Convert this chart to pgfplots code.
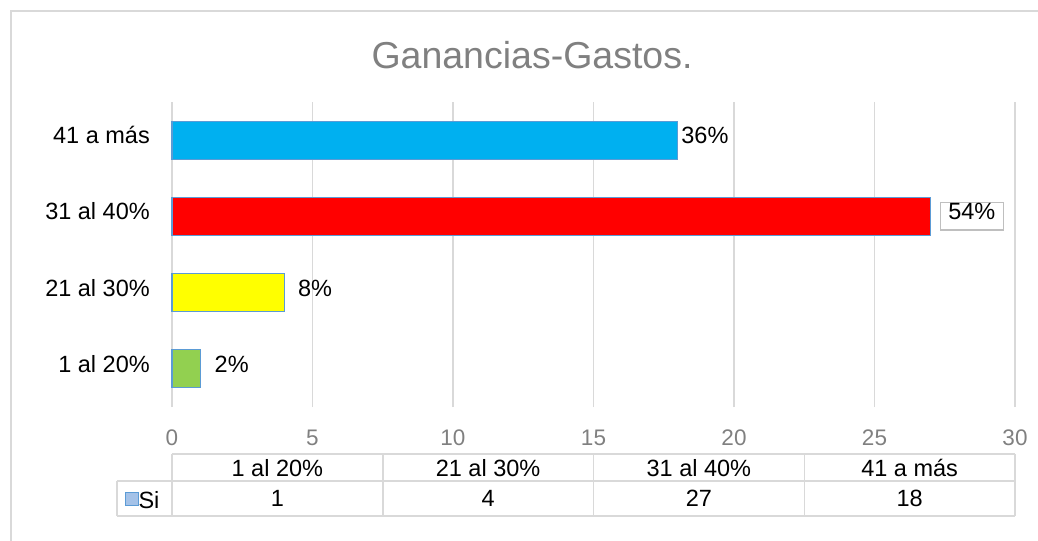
\documentclass[border=0pt]{standalone}
\usepackage{fontspec}
\setmainfont{Liberation Sans}
\usepackage{pgfplots}
\pgfplotsset{compat=1.18}
\definecolor{gridgray}{HTML}{D9D9D9}
\definecolor{framegray}{HTML}{D9D9D9}
\definecolor{tickgray}{HTML}{808080}
\definecolor{titlegray}{HTML}{808080}
\definecolor{boxgray}{HTML}{BFBFBF}
\definecolor{barborder}{HTML}{5B9BD5}
\definecolor{cblue}{HTML}{00B0F0}
\definecolor{cred}{HTML}{FF0000}
\definecolor{cyellow}{HTML}{FFFF00}
\definecolor{cgreen}{HTML}{92D050}
\definecolor{legfill}{HTML}{A4C2E8}
\newcommand\labfont{\fontsize{23.5bp}{28bp}\selectfont}
\newcommand\tickfont{\fontsize{22.5bp}{27bp}\selectfont}
\newcommand\titlefont{\fontsize{37.5bp}{44bp}\selectfont}
\begin{document}
\begin{tikzpicture}
\path[use as bounding box] (0,0) rectangle (1038bp,-541bp);
\draw[framegray, line width=1.5bp] (11bp,-541bp) -- (11bp,-11bp) -- (1038bp,-11bp);
\node[anchor=base, font=\titlefont, text=titlegray, inner sep=0pt] at (532bp,-68bp) {Ganancias-Gastos.};
\begin{axis}[
  at={(172bp,-407bp)}, anchor=south west,
  width=843bp, height=305bp, scale only axis,
  xbar, bar shift=0pt, bar width=38bp,
  xmin=0, xmax=30, ymin=-0.5, ymax=3.5,
  xtick={0,5,...,30}, ytick={0,1,2,3},
  yticklabels={1 al 20\%, 21 al 30\%, 31 al 40\%, 41 a más},
  axis line style={draw=none}, major tick length=0pt, tick style={draw=none},
  xmajorgrids, grid style={gridgray, line width=1.5bp},
  ticklabel style={inner sep=0pt},
  xticklabel style={font=\tickfont, text=tickgray, yshift=-23bp},
  yticklabel style={font=\labfont, xshift=-22bp, text height=0.716em, text depth=0pt},
  /pgf/number format/assume math mode=true,
  point meta=explicit symbolic,
  nodes near coords,
  nodes near coords style={font=\labfont, inner sep=0pt, anchor=west, text height=0.716em, text depth=0pt},
  clip=false,
  legend style={at={(axis description cs:-0.0563,-0.3164)}, anchor=west, draw=none, fill=none,
    inner sep=0pt, outer sep=0pt, font=\labfont,
    nodes={inner sep=0pt, text height=0.716em, text depth=0pt},
    /tikz/every even column/.append style={column sep=5bp}},
]
\addlegendimage{legend image code/.code={\path (0bp,-10bp); \draw[fill=legfill, draw=barborder, line width=1bp] (0bp,0bp) rectangle (13bp,13bp);}}
\addlegendentry{Si}
\addplot[forget plot, fill=cgreen, draw=barborder, line width=1.2bp,
  every node near coord/.append style={xshift=14bp}] coordinates {(1,0) [2\%]};
\addplot[forget plot, fill=cyellow, draw=barborder, line width=1.2bp,
  every node near coord/.append style={xshift=13bp}] coordinates {(4,1) [8\%]};
\addplot[forget plot, fill=cred, draw=barborder, line width=1.2bp,
  every node near coord/.append style={xshift=9bp, draw=boxgray, line width=1.2bp, inner xsep=8bp, inner ysep=10bp}] coordinates {(27,2) [54\%]};
\addplot[forget plot, fill=cblue, draw=barborder, line width=1.2bp,
  every node near coord/.append style={xshift=3bp}] coordinates {(18,3) [36\%]};
\end{axis}
\begin{scope}[x=1bp,y=-1bp]
\draw[gridgray, line width=1.5bp] (172,454) -- (1015,454);
\draw[gridgray, line width=1.5bp] (117,481) -- (1015,481);
\draw[gridgray, line width=1.5bp] (117,516) -- (1015,516);
\draw[gridgray, line width=1.5bp] (117,481) -- (117,516);
\foreach \x in {172,382.75,593.5,804.25,1015} {\draw[gridgray, line width=1.5bp] (\x,454) -- (\x,516);}
\node[anchor=base, font=\labfont, inner sep=0pt] at (277.4,476) {1 al 20\%};
\node[anchor=base, font=\labfont, inner sep=0pt] at (488.1,476) {21 al 30\%};
\node[anchor=base, font=\labfont, inner sep=0pt] at (698.9,476) {31 al 40\%};
\node[anchor=base, font=\labfont, inner sep=0pt] at (909.6,476) {41 a más};
\node[anchor=base, font=\labfont, inner sep=0pt] at (277.4,506) {1};
\node[anchor=base, font=\labfont, inner sep=0pt] at (488.1,506) {4};
\node[anchor=base, font=\labfont, inner sep=0pt] at (698.9,506) {27};
\node[anchor=base, font=\labfont, inner sep=0pt] at (909.6,506) {18};
\end{scope}
\end{tikzpicture}
\end{document}
